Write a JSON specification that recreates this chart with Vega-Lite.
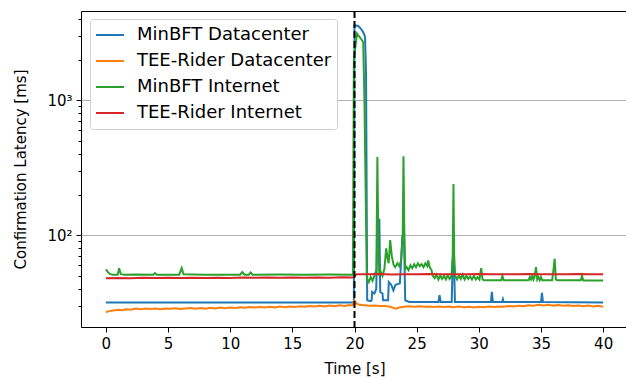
{
  "$schema": "https://vega.github.io/schema/vega-lite/v6.json",
  "width": 547,
  "height": 316,
  "autosize": {"type": "none"},
  "padding": {"left": 81, "top": 11, "right": 0, "bottom": 52},
  "background": "white",
  "config": {
    "view": {"stroke": "black", "strokeWidth": 1},
    "font": "DejaVu Sans",
    "axis": {"domain": false, "tickColor": "black", "labelColor": "black", "titleColor": "black", "labelFontSize": 15, "titleFontSize": 15, "titleFontWeight": "normal", "labelFont": "DejaVu Sans", "titleFont": "DejaVu Sans"}
  },
  "datasets": {
    "blue": [
      {"t":0,"v":31.7},{"t":19.95,"v":31.7},{"t":20.0,"v":3600},{"t":20.3,"v":3550},{"t":20.5,"v":3400},{"t":20.7,"v":3200},{"t":20.85,"v":2950},{"t":20.93,"v":1500},{"t":21.02,"v":33},{"t":21.3,"v":32.5},{"t":21.38,"v":33},{"t":21.42,"v":38},{"t":21.6,"v":37},{"t":21.75,"v":40},{"t":21.85,"v":130},{"t":22.0,"v":130},{"t":22.07,"v":38},{"t":22.25,"v":37},{"t":22.3,"v":33},{"t":22.7,"v":33},{"t":22.76,"v":45},{"t":22.95,"v":43},{"t":23.13,"v":39},{"t":23.3,"v":43},{"t":23.65,"v":44},{"t":23.85,"v":97},{"t":23.98,"v":97},{"t":24.08,"v":33},{"t":24.4,"v":32},{"t":26.75,"v":32},{"t":26.84,"v":36},{"t":26.93,"v":32},{"t":27.82,"v":32},{"t":27.9,"v":65},{"t":28.0,"v":65},{"t":28.08,"v":32},{"t":30.97,"v":32},{"t":31.05,"v":38},{"t":31.13,"v":32},{"t":31.88,"v":32},{"t":31.94,"v":33.5},{"t":32.0,"v":32},{"t":35.0,"v":32},{"t":35.08,"v":37.5},{"t":35.16,"v":32},{"t":40,"v":31.8}
    ],
    "orange": [
      {"t":0,"v":27.0},{"t":0.3,"v":27.4},{"t":0.6,"v":27.7},{"t":1.0,"v":28.0},{"t":1.3,"v":27.8},{"t":1.6,"v":28.3},{"t":2.0,"v":28.1},{"t":2.4,"v":28.6},{"t":2.8,"v":28.3},{"t":3.2,"v":28.7},{"t":3.6,"v":28.4},{"t":4.0,"v":28.6},{"t":4.4,"v":28.3},{"t":4.8,"v":28.7},{"t":5.2,"v":28.5},{"t":5.6,"v":28.8},{"t":6.0,"v":28.4},{"t":6.4,"v":28.7},{"t":6.8,"v":28.9},{"t":7.2,"v":28.5},{"t":7.6,"v":28.9},{"t":8.0,"v":28.6},{"t":8.4,"v":29.0},{"t":8.8,"v":28.7},{"t":9.2,"v":29.1},{"t":9.6,"v":28.8},{"t":10.0,"v":29.2},{"t":10.4,"v":28.9},{"t":10.8,"v":29.3},{"t":11.2,"v":29.0},{"t":11.6,"v":29.4},{"t":12.0,"v":29.1},{"t":12.4,"v":29.4},{"t":12.8,"v":29.2},{"t":13.2,"v":29.5},{"t":13.6,"v":29.2},{"t":14.0,"v":29.6},{"t":14.4,"v":29.3},{"t":14.8,"v":29.7},{"t":15.2,"v":29.4},{"t":15.6,"v":29.8},{"t":16.0,"v":29.5},{"t":16.4,"v":29.9},{"t":16.8,"v":29.6},{"t":17.2,"v":30.0},{"t":17.6,"v":29.7},{"t":18.0,"v":30.1},{"t":18.4,"v":29.8},{"t":18.8,"v":30.3},{"t":19.2,"v":29.9},{"t":19.6,"v":30.4},{"t":19.85,"v":30.2},{"t":20.0,"v":32.8},{"t":20.15,"v":31.2},{"t":20.4,"v":30.5},{"t":20.8,"v":30.3},{"t":21.2,"v":30.0},{"t":21.6,"v":30.2},{"t":22.0,"v":29.9},{"t":22.4,"v":29.9},{"t":22.8,"v":29.6},{"t":23.1,"v":29.0},{"t":23.3,"v":28.6},{"t":23.6,"v":29.1},{"t":24.0,"v":29.5},{"t":24.4,"v":29.8},{"t":24.8,"v":29.5},{"t":25.2,"v":29.8},{"t":25.6,"v":29.5},{"t":26.0,"v":29.7},{"t":26.4,"v":29.4},{"t":26.8,"v":29.7},{"t":27.2,"v":29.4},{"t":27.6,"v":29.6},{"t":28.0,"v":29.3},{"t":28.4,"v":29.6},{"t":28.8,"v":29.3},{"t":29.2,"v":29.5},{"t":29.6,"v":29.2},{"t":30.0,"v":29.5},{"t":30.4,"v":29.3},{"t":30.8,"v":29.6},{"t":31.2,"v":29.4},{"t":31.6,"v":29.7},{"t":32.0,"v":29.5},{"t":32.4,"v":29.9},{"t":32.8,"v":29.6},{"t":33.2,"v":30.0},{"t":33.6,"v":29.8},{"t":34.0,"v":30.3},{"t":34.4,"v":30.0},{"t":34.8,"v":30.6},{"t":35.2,"v":30.2},{"t":35.6,"v":30.5},{"t":36.0,"v":30.1},{"t":36.4,"v":30.4},{"t":36.8,"v":30.0},{"t":37.2,"v":30.3},{"t":37.6,"v":29.9},{"t":38.0,"v":30.2},{"t":38.4,"v":29.8},{"t":38.8,"v":30.1},{"t":39.2,"v":29.6},{"t":39.6,"v":30.0},{"t":40.0,"v":29.5}
    ],
    "green": [
      {"t":0,"v":56},{"t":0.15,"v":53.5},{"t":0.35,"v":51.5},{"t":0.6,"v":51},{"t":0.95,"v":51},{"t":1.07,"v":57},{"t":1.2,"v":51.5},{"t":1.5,"v":51},{"t":2.5,"v":51.2},{"t":3.8,"v":51},{"t":3.95,"v":52.5},{"t":4.1,"v":51},{"t":5.9,"v":51},{"t":6.1,"v":57},{"t":6.25,"v":51.3},{"t":8,"v":51},{"t":10.8,"v":51},{"t":10.97,"v":53.4},{"t":11.15,"v":51},{"t":11.5,"v":51},{"t":11.65,"v":53},{"t":11.8,"v":51},{"t":14,"v":51.2},{"t":16,"v":51},{"t":18,"v":51.2},{"t":19.87,"v":51},{"t":19.95,"v":2000},{"t":20.2,"v":3120},{"t":20.5,"v":2870},{"t":20.7,"v":2700},{"t":20.8,"v":1000},{"t":20.99,"v":48},{"t":21.15,"v":45},{"t":21.3,"v":49},{"t":21.45,"v":46},{"t":21.6,"v":50},{"t":21.76,"v":55},{"t":21.84,"v":380},{"t":21.92,"v":80},{"t":22.0,"v":50},{"t":22.1,"v":54},{"t":22.25,"v":50},{"t":22.4,"v":56},{"t":22.55,"v":80},{"t":22.65,"v":68},{"t":22.75,"v":62},{"t":22.87,"v":92},{"t":23.0,"v":70},{"t":23.15,"v":60},{"t":23.27,"v":58},{"t":23.45,"v":62},{"t":23.6,"v":59},{"t":23.75,"v":65},{"t":23.88,"v":100},{"t":23.94,"v":385},{"t":24.0,"v":120},{"t":24.08,"v":56},{"t":24.2,"v":58},{"t":24.35,"v":55},{"t":24.5,"v":60},{"t":24.65,"v":57},{"t":24.8,"v":61},{"t":24.95,"v":58},{"t":25.1,"v":62},{"t":25.25,"v":59},{"t":25.4,"v":61},{"t":25.55,"v":58},{"t":25.7,"v":62},{"t":25.85,"v":59},{"t":25.93,"v":65},{"t":26.05,"v":58},{"t":26.2,"v":55},{"t":26.3,"v":50},{"t":26.45,"v":48},{"t":26.6,"v":51},{"t":26.75,"v":47},{"t":26.9,"v":50},{"t":27.05,"v":47.5},{"t":27.2,"v":50},{"t":27.35,"v":47},{"t":27.5,"v":50.5},{"t":27.65,"v":47.5},{"t":27.8,"v":50},{"t":27.9,"v":70},{"t":27.96,"v":240},{"t":28.02,"v":70},{"t":28.1,"v":50},{"t":28.25,"v":47},{"t":28.4,"v":50.5},{"t":28.55,"v":47.5},{"t":28.7,"v":51},{"t":28.85,"v":47},{"t":29.0,"v":50},{"t":29.15,"v":47.5},{"t":29.3,"v":49.5},{"t":29.45,"v":47},{"t":29.6,"v":50},{"t":29.75,"v":47},{"t":29.9,"v":49},{"t":30.05,"v":47},{"t":30.19,"v":57},{"t":30.3,"v":47},{"t":30.4,"v":46.4},{"t":31.8,"v":46.4},{"t":31.9,"v":50},{"t":32.0,"v":46.4},{"t":34.0,"v":46.4},{"t":34.1,"v":49},{"t":34.2,"v":47},{"t":34.3,"v":50},{"t":34.4,"v":47},{"t":34.5,"v":50},{"t":34.6,"v":58},{"t":34.7,"v":47},{"t":34.8,"v":49},{"t":34.9,"v":46.5},{"t":35.0,"v":49},{"t":35.1,"v":46.4},{"t":35.9,"v":46.4},{"t":36.0,"v":55},{"t":36.1,"v":67},{"t":36.2,"v":47},{"t":36.3,"v":46.4},{"t":38.2,"v":46.4},{"t":38.3,"v":50},{"t":38.4,"v":46.2},{"t":40,"v":46.2}
    ],
    "red": [
      {"t":0,"v":48.0},{"t":1,"v":48.3},{"t":2,"v":48.1},{"t":3,"v":48.4},{"t":4,"v":48.2},{"t":5,"v":48.4},{"t":6,"v":48.2},{"t":7,"v":48.5},{"t":8,"v":48.3},{"t":9,"v":48.5},{"t":10,"v":48.3},{"t":11,"v":48.6},{"t":12,"v":48.4},{"t":13,"v":48.6},{"t":14,"v":48.4},{"t":15,"v":48.7},{"t":16,"v":48.5},{"t":17,"v":48.7},{"t":18,"v":48.5},{"t":19,"v":48.8},{"t":19.9,"v":48.6},{"t":20.05,"v":50.5},{"t":20.2,"v":51.5},{"t":21,"v":51.3},{"t":22,"v":51.6},{"t":23,"v":51.2},{"t":24,"v":51.5},{"t":25,"v":51.3},{"t":26,"v":51.6},{"t":27,"v":51.3},{"t":28,"v":51.5},{"t":29,"v":51.3},{"t":30,"v":51.6},{"t":31,"v":51.3},{"t":32,"v":51.5},{"t":33,"v":51.3},{"t":34,"v":51.6},{"t":35,"v":51.3},{"t":36,"v":51.5},{"t":37,"v":51.3},{"t":38,"v":51.6},{"t":39,"v":51.3},{"t":40,"v":51.5}
    ],
    "marker": [{"t": 20}]
  },
  "layer": [
    {
      "data": {"name": "blue"},
      "mark": {"type": "line", "strokeWidth": 2, "clip": true},
      "encoding": {
        "x": {"field": "t", "type": "quantitative", "scale": {"domain": [-2, 42], "nice": false, "zero": false},
              "axis": {"values": [0,5,10,15,20,25,30,35,40], "title": "Time [s]", "grid": false, "tickSize": 5, "labelPadding": 4, "titlePadding": 10}},
        "y": {"field": "v", "type": "quantitative", "scale": {"type": "log", "domain": [20.9, 4586], "nice": false},
              "axis": {"values": [30,40,50,60,70,80,90,100,200,300,400,500,600,700,800,900,1000,2000,3000,4000],
                       "labelExpr": "datum.value == 100 ? '10²' : datum.value == 1000 ? '10³' : ''",
                       "labelOverlap": false,
                       "tickSize": {"condition": {"test": "datum.value == 100 || datum.value == 1000", "value": 5}, "value": 3},
                       "grid": true, "gridColor": "#b0b0b0", "gridWidth": 1,
                       "gridOpacity": {"condition": {"test": "datum.value == 100 || datum.value == 1000", "value": 1}, "value": 0},
                       "title": "Confirmation Latency [ms]", "labelPadding": 4, "titlePadding": 18}},
        "color": {"datum": "MinBFT Datacenter", "type": "nominal",
                  "scale": {"domain": ["MinBFT Datacenter", "TEE-Rider Datacenter", "MinBFT Internet", "TEE-Rider Internet"],
                            "range": ["#1f77b4", "#ff7f0e", "#2ca02c", "#d62728"]},
                  "legend": {"title": null, "orient": "none", "legendX": 9, "legendY": 8, "symbolType": "stroke", "symbolSize": 784, "symbolStrokeWidth": 2, "clipHeight": 22, "rowPadding": 4, "labelFontSize": 18, "labelLimit": 400, "labelFont": "DejaVu Sans", "labelColor": "black", "labelOffset": 12, "padding": 5, "fillColor": "white", "strokeColor": "#d0d0d0", "cornerRadius": 3}}
      }
    },
    {
      "data": {"name": "orange"},
      "mark": {"type": "line", "strokeWidth": 2, "clip": true},
      "encoding": {"x": {"field": "t", "type": "quantitative"}, "y": {"field": "v", "type": "quantitative"}, "color": {"datum": "TEE-Rider Datacenter", "type": "nominal"}}
    },
    {
      "data": {"name": "green"},
      "mark": {"type": "line", "strokeWidth": 2, "clip": true},
      "encoding": {"x": {"field": "t", "type": "quantitative"}, "y": {"field": "v", "type": "quantitative"}, "color": {"datum": "MinBFT Internet", "type": "nominal"}}
    },
    {
      "data": {"name": "red"},
      "mark": {"type": "line", "strokeWidth": 2, "clip": true},
      "encoding": {"x": {"field": "t", "type": "quantitative"}, "y": {"field": "v", "type": "quantitative"}, "color": {"datum": "TEE-Rider Internet", "type": "nominal"}}
    },
    {
      "data": {"name": "marker"},
      "mark": {"type": "rule", "color": "black", "strokeWidth": 2, "strokeDash": [7, 3]},
      "encoding": {"x": {"field": "t", "type": "quantitative"}}
    }
  ]
}
